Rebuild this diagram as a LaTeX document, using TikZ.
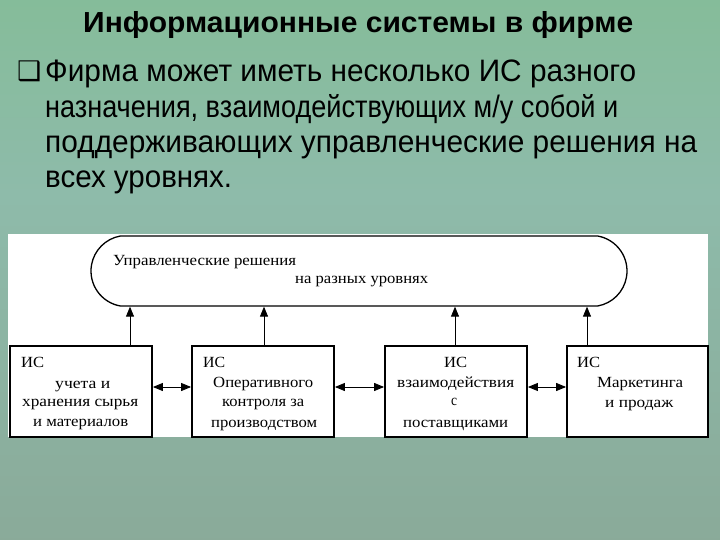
\documentclass[tikz,border=0pt]{standalone}
\usepackage{fontspec}
\usepackage{graphicx}
\setmainfont{Liberation Sans}
\newfontfamily\boxfont{Liberation Serif}
\newfontfamily\symfont{DejaVu Sans}
\usetikzlibrary{shapes.misc,arrows.meta}
\definecolor{cTop}{RGB}{121,190,131}
\definecolor{cMid}{RGB}{142,187,170}
\definecolor{cLow}{RGB}{137,167,150}
\definecolor{cBot}{RGB}{126,153,123}
\pgfdeclareverticalshading{bgshade}{100bp}{color(0bp)=(cBot); color(18.5bp)=(cLow); color(57bp)=(cMid); color(100bp)=(cTop)}
\newcommand\fitw[2]{\sbox0{#2}\pgfmathsetmacro\fitsx{#1/\wd0}\scalebox{\fitsx}[1]{\usebox0}}
\begin{document}
\begin{tikzpicture}[x=1pt,y=-1pt,
  ttl/.style={anchor=base west,inner sep=0pt,font=\bfseries\fontsize{29}{32}\selectfont},
  body/.style={anchor=base west,inner sep=0pt,font=\fontsize{31}{34}\selectfont},
  btxt/.style={anchor=base west,inner sep=0pt,font=\boxfont\fontsize{15.5}{18}\selectfont},
  isbox/.style={draw,line width=1.8pt,minimum height=91pt,inner sep=0pt},
  topbox/.style={draw,rounded rectangle,rounded rectangle arc length=160,line width=1.3pt,minimum width=536pt,minimum height=70pt,inner sep=0pt},
  uparr/.style={-{Triangle[length=10pt,width=8pt]},line width=0.9pt},
  dblarr/.style={{Triangle[length=10pt,width=8pt]}-{Triangle[length=10pt,width=8pt]},line width=0.9pt}]
\useasboundingbox (0,0) rectangle (720,540);
\shade[shading=bgshade] (0,0) rectangle (720,540);
\fill[white] (8,234) rectangle (708,437);

% title and bullet text
\node[ttl] (title) at (83,33) {\fitw{550}{Информационные системы в фирме}};
\node[anchor=base west,inner sep=0pt,font=\symfont\fontsize{27}{30}\selectfont] (bul) at (17,81) {❑};
\node[body] (l1) at (45,82) {\fitw{591}{Фирма может иметь несколько ИС разного}};
\node[body] (l2) at (45,118) {\fitw{573}{назначения, взаимодействующих м/у собой и}};
\node[body] (l3) at (45,153) {\fitw{652}{поддерживающих управленческие решения на}};
\node[body] (l4) at (45,188) {\fitw{187}{всех уровнях.}};

% top rounded shape
\node[topbox] (top) at (359,271) {};
\node[btxt] (u1) at (113,265) {\fitw{183}{Управленческие решения}};
\node[btxt] (u2) at (295,283) {\fitw{133}{на разных уровнях}};

% IS boxes
\node[isbox,minimum width=142pt] (b1) at (81,391.5) {};
\node[isbox,minimum width=142pt] (b2) at (263,391.5) {};
\node[isbox,minimum width=142pt] (b3) at (456,391.5) {};
\node[isbox,minimum width=141pt] (b4) at (637.5,391.5) {};

% box texts
\node[btxt] (b1a) at (21,367) {\fitw{23}{ИС}};
\node[btxt] (b1b) at (55,388) {\fitw{55}{учета и}};
\node[btxt] (b1c) at (22,406) {\fitw{116}{хранения сырья}};
\node[btxt] (b1d) at (33,426) {\fitw{95}{и материалов}};

\node[btxt] (b2a) at (203,367) {\fitw{22}{ИС}};
\node[btxt] (b2b) at (213,387) {\fitw{100}{Оперативного}};
\node[btxt] (b2c) at (222,406) {\fitw{82}{контроля за}};
\node[btxt] (b2d) at (211,427) {\fitw{106}{производством}};

\node[btxt] (b3a) at (444,367) {\fitw{23}{ИС}};
\node[btxt] (b3b) at (397,387) {\fitw{117}{взаимодействия}};
\node[btxt] (b3c) at (451,405) {\fitw{6}{с}};
\node[btxt] (b3d) at (403,427) {\fitw{105}{поставщиками}};

\node[btxt] (b4a) at (577,367) {\fitw{23}{ИС}};
\node[btxt] (b4b) at (597,387) {\fitw{86}{Маркетинга}};
\node[btxt] (b4c) at (605,407) {\fitw{68}{и продаж}};

% vertical arrows
\draw[uparr] ([xshift=49pt]b1.north) -- ([xshift=49pt]b1.north |- top.south);
\draw[uparr] ([xshift=1pt]b2.north) -- ([xshift=1pt]b2.north |- top.south);
\draw[uparr] ([xshift=-1pt]b3.north) -- ([xshift=-1pt]b3.north |- top.south);
\draw[uparr] ([xshift=-50.5pt]b4.north) -- ([xshift=-50.5pt]b4.north |- top.south);

% horizontal arrows
\draw[dblarr] ([yshift=4.5pt]b1.east) -- ([yshift=4.5pt]b2.west);
\draw[dblarr] ([yshift=4.5pt]b2.east) -- ([yshift=4.5pt]b3.west);
\draw[dblarr] ([yshift=4.5pt]b3.east) -- ([yshift=4.5pt]b4.west);
\end{tikzpicture}
\end{document}
